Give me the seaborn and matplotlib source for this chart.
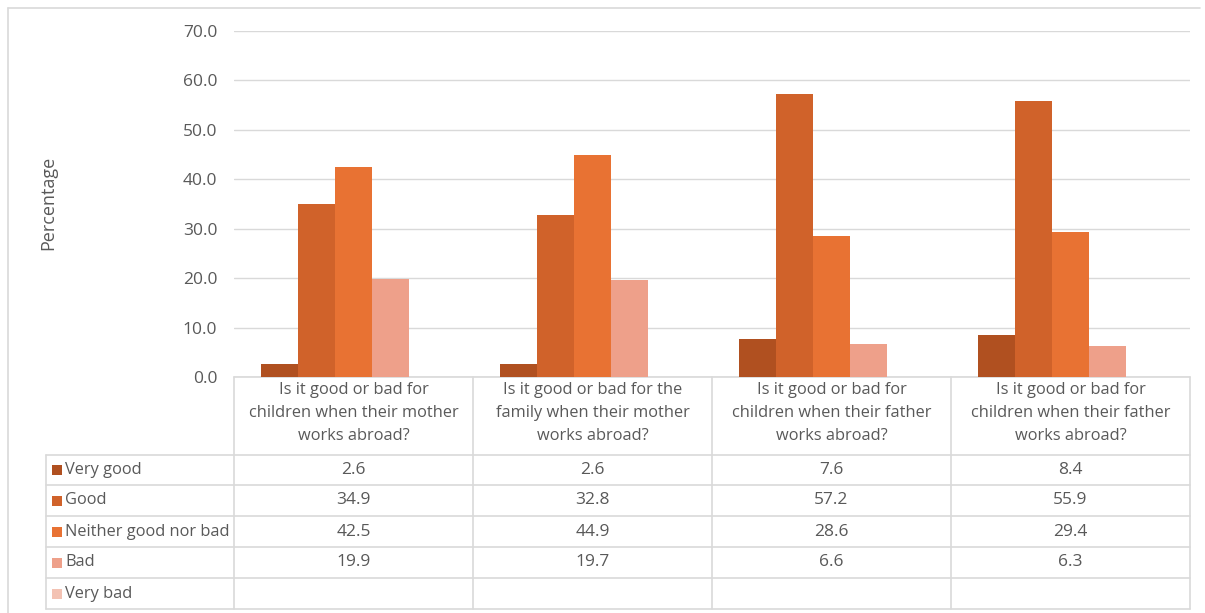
import numpy as np
import pandas as pd
import matplotlib
matplotlib.use("Agg")
import matplotlib.pyplot as plt
import seaborn as sns

# ---- data ----
questions = [
    "Is it good or bad for\nchildren when their mother\nworks abroad?",
    "Is it good or bad for the\nfamily when their mother\nworks abroad?",
    "Is it good or bad for\nchildren when their father\nworks abroad?",
    "Is it good or bad for\nchildren when their father\nworks abroad?",
]
responses = ["Very good", "Good", "Neither good nor bad", "Bad", "Very bad"]
very_good = [2.6, 2.6, 7.6, 8.4]
good = [34.9, 32.8, 57.2, 55.9]
neither = [42.5, 44.9, 28.6, 29.4]
bad = [19.9, 19.7, 6.6, 6.3]
very_bad = [np.nan, np.nan, np.nan, np.nan]
y_ticks = [0, 10, 20, 30, 40, 50, 60, 70]

colors = ["#B05020", "#D0622A", "#E87233", "#EEA08A", "#F3C2B3"]
text_col = "#595959"
line_col = "#D9D9D9"

series = [very_good, good, neither, bad, very_bad]
q_ids = [f"Q{i+1}" for i in range(len(questions))]
rows = []
for resp, vals in zip(responses, series):
    for q, v in zip(q_ids, vals):
        rows.append({"question": q, "response": resp, "value": v})
df = pd.DataFrame(rows)

sns.set_theme(style="white")
plt.rcParams["font.family"] = ["Open Sans", "DejaVu Sans"]

W, H = 1205, 613
fig = plt.figure(figsize=(W / 100, H / 100), dpi=100)

# pixel-space overlay for the frame and data table
bg = fig.add_axes([0, 0, 1, 1], zorder=0)
bg.set_xlim(0, W)
bg.set_ylim(H, 0)
bg.axis("off")

# plot area in pixels
x0, x1 = 234, 1190
y_top, y_bot = 31, 377
ax = fig.add_axes([x0 / W, (H - y_bot) / H, (x1 - x0) / W, (y_bot - y_top) / H], zorder=1)
ax.patch.set_alpha(0)

sns.barplot(
    data=df, x="question", y="value", hue="response",
    order=q_ids, hue_order=responses, palette=colors,
    width=0.775, gap=0, saturation=1, errorbar=None,
    linewidth=0, ax=ax, legend=False,
)
ax.set_ylim(0, 70)
ax.set_yticks(y_ticks)
ax.set_yticklabels([f"{t:.1f}" for t in y_ticks], color=text_col, fontsize=12.5)
ax.tick_params(axis="y", length=0, pad=12)
ax.set_xticks([])
ax.set_xlabel("")
ax.set_ylabel("")
ax.yaxis.grid(True, color=line_col, linewidth=1)
ax.set_axisbelow(True)
for s in ax.spines.values():
    s.set_visible(False)

fig.text(48 / W, 1 - 203 / H, "Percentage", rotation=90, ha="center", va="center",
         color=text_col, fontsize=13)

# outer frame
bg.plot([8, 8], [8, H], color=line_col, lw=1.2)
bg.plot([8, 1200], [8, 8], color=line_col, lw=1.2)

# data table below the plot area
col_edges = np.linspace(x0, x1, len(questions) + 1)
row_edges = [377, 455, 485, 516, 547, 578, 609]
lab_left = 46
lk = dict(color=line_col, lw=1.2)
bg.plot([x0, x1], [row_edges[0], row_edges[0]], **lk)
for yy in row_edges[1:]:
    bg.plot([lab_left, x1], [yy, yy], **lk)
bg.plot([lab_left, lab_left], [row_edges[1], row_edges[-1]], **lk)
for xx in col_edges:
    bg.plot([xx, xx], [row_edges[0], row_edges[-1]], **lk)

for i, q in enumerate(questions):
    cx = (col_edges[i] + col_edges[i + 1]) / 2
    bg.text(cx, 413, q, ha="center", va="center",
            color=text_col, fontsize=11.8, linespacing=1.55)

for r, (resp, vals) in enumerate(zip(responses, series)):
    cy = (row_edges[r + 1] + row_edges[r + 2]) / 2
    bg.add_patch(plt.Rectangle((52, cy - 5), 10, 10, color=colors[r], lw=0))
    bg.text(65, cy, resp, ha="left", va="center", color=text_col, fontsize=11.8)
    for i, v in enumerate(vals):
        if np.isnan(v):
            continue
        cx = (col_edges[i] + col_edges[i + 1]) / 2
        bg.text(cx, cy, f"{v:.1f}", ha="center", va="center", color=text_col, fontsize=12.5)

fig.savefig("out.png", dpi=100, facecolor="white")
